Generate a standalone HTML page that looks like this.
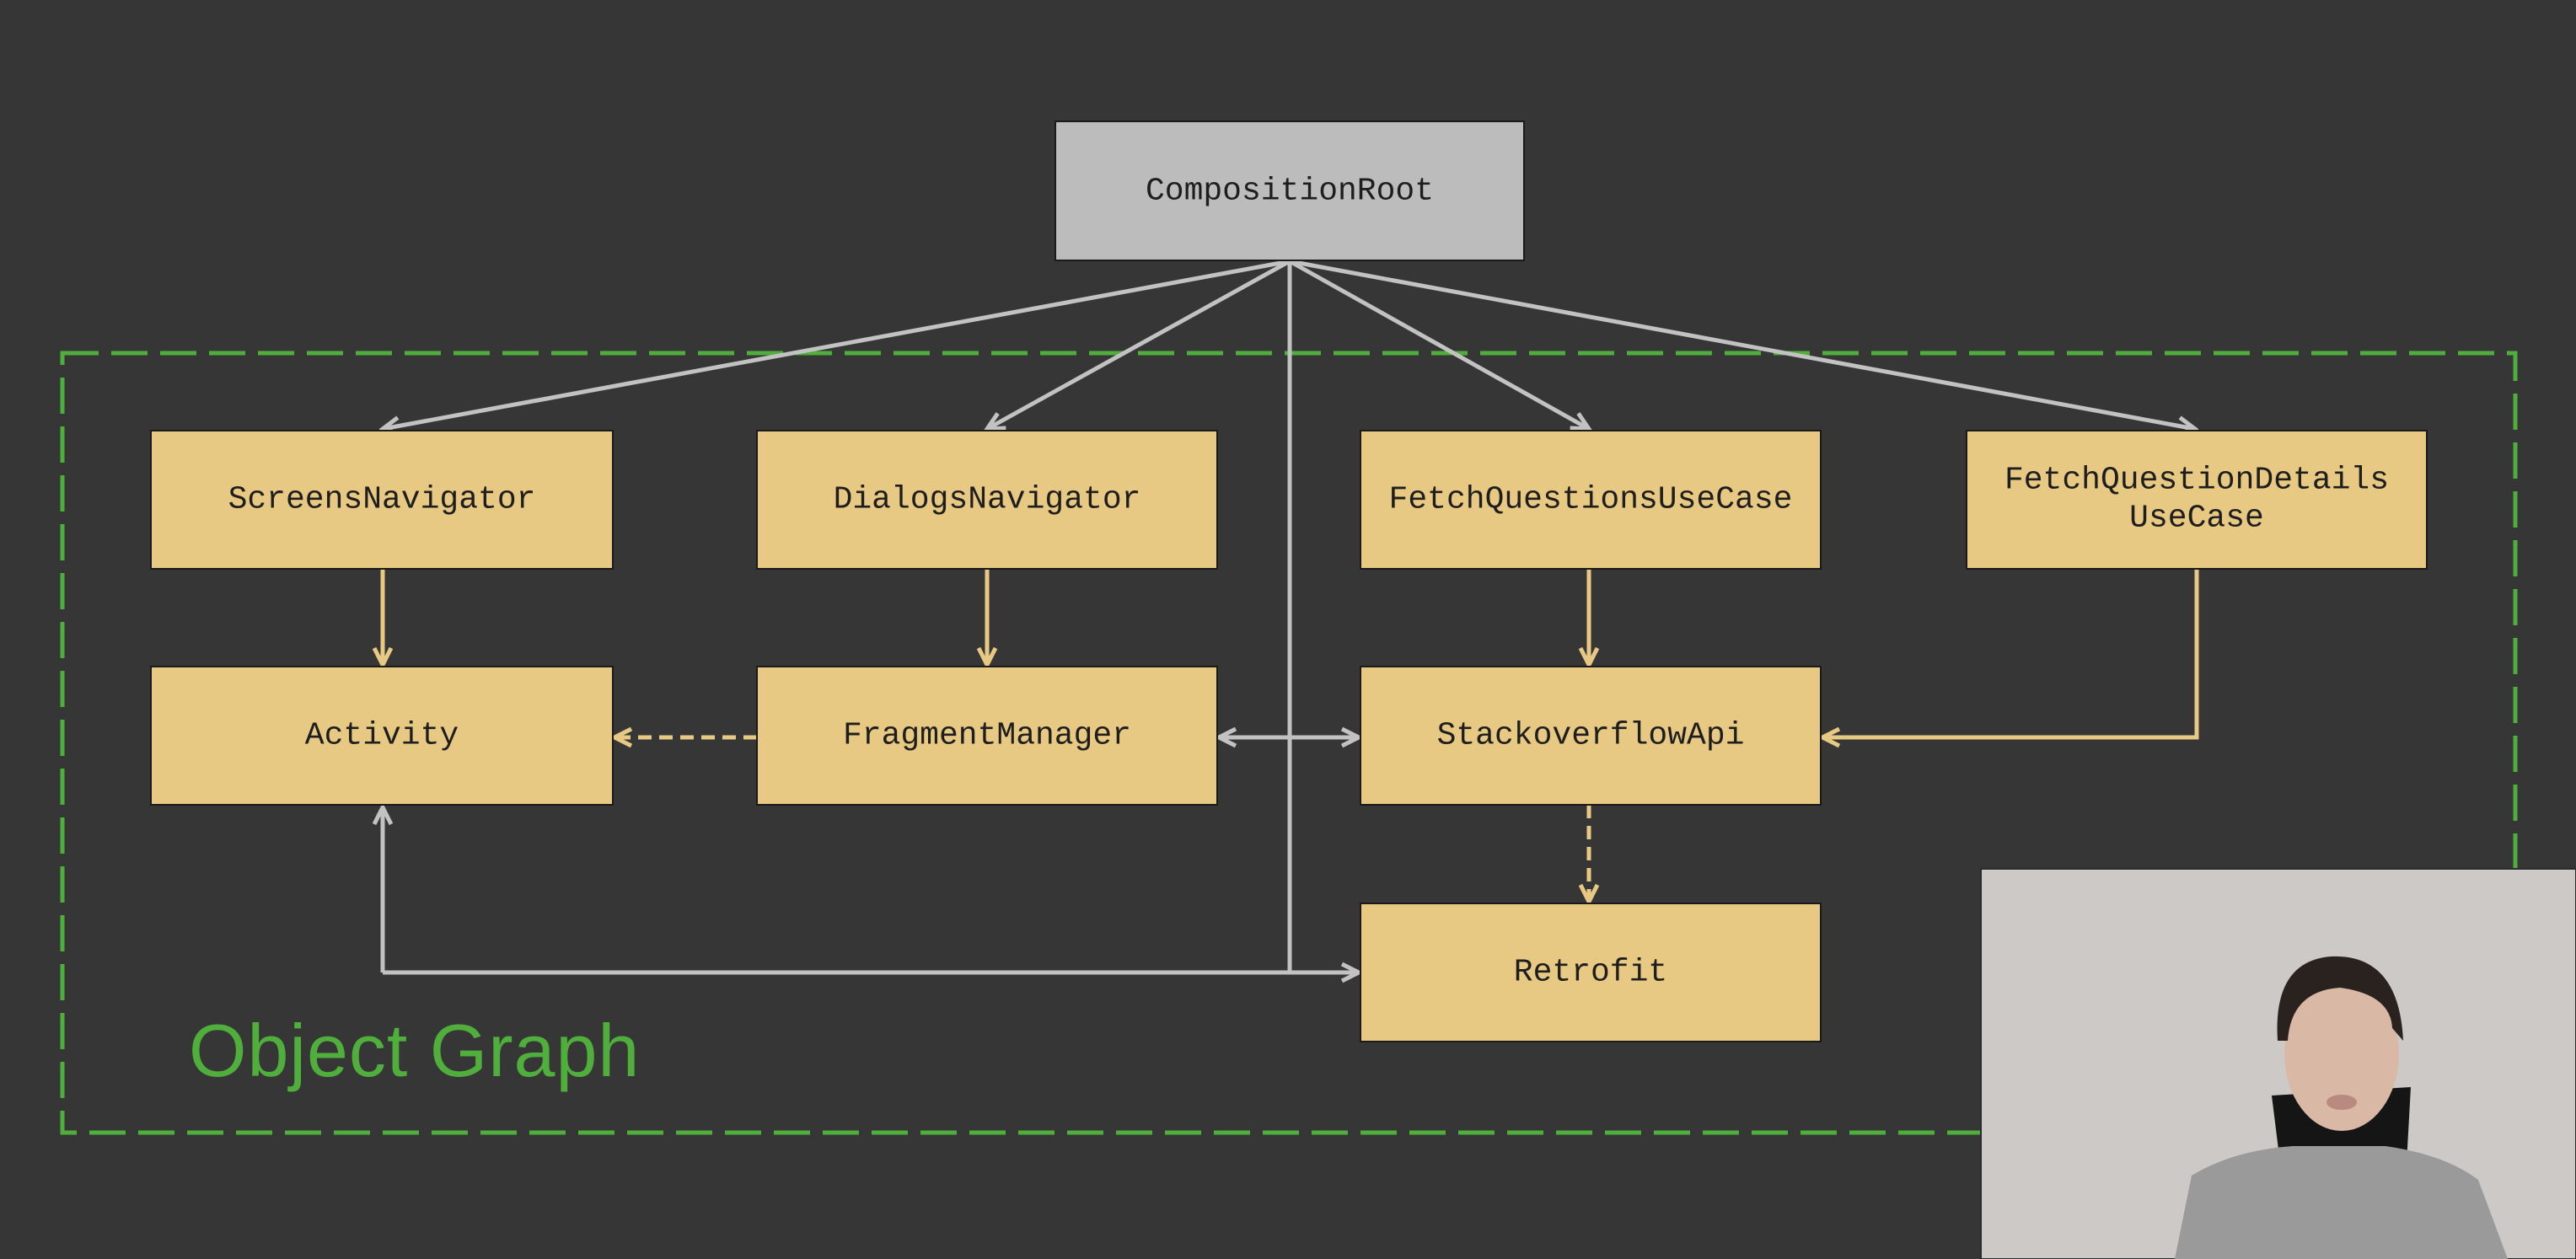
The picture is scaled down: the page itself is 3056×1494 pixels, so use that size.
<!DOCTYPE html>
<html><head><meta charset="utf-8"><style>
html,body{margin:0;padding:0;background:#363636;width:3056px;height:1494px;overflow:hidden}
svg{display:block}
.t{font-family:"Liberation Mono","DejaVu Sans Mono",monospace;font-size:38px;fill:#1e1e1e;text-anchor:middle;dominant-baseline:central}
</style></head><body>
<svg width="3056" height="1494" viewBox="0 0 3056 1494" xmlns="http://www.w3.org/2000/svg">
<defs>
<marker id="AG" markerWidth="28" markerHeight="28" refX="24" refY="14" orient="auto" markerUnits="userSpaceOnUse"><path d="M4,4 L24,14 L4,24" fill="none" stroke="#c2c2c2" stroke-width="5"/></marker>
<marker id="AY" markerWidth="28" markerHeight="28" refX="24" refY="14" orient="auto" markerUnits="userSpaceOnUse"><path d="M4,4 L24,14 L4,24" fill="none" stroke="#e8c984" stroke-width="5"/></marker>
</defs>
<rect width="3056" height="1494" fill="#363636"/>
<rect x="74" y="419" width="2910" height="925" fill="none" stroke="#4fae3c" stroke-width="5" stroke-dasharray="43,15"/>
<text x="224" y="1277" font-family="'Liberation Sans',sans-serif" font-size="88" letter-spacing="1" fill="#4fae3c">Object Graph</text>

<g stroke="#c2c2c2" stroke-width="5" fill="none">
<line x1="1530" y1="310" x2="454" y2="509" marker-end="url(#AG)"/>
<line x1="1530" y1="310" x2="1171" y2="509" marker-end="url(#AG)"/>
<line x1="1530" y1="310" x2="1885" y2="509" marker-end="url(#AG)"/>
<line x1="1530" y1="310" x2="2604" y2="509" marker-end="url(#AG)"/>
<line x1="1530" y1="310" x2="1530" y2="1154"/>
<line x1="454" y1="1154" x2="1612" y2="1154" marker-end="url(#AG)"/>
<line x1="454" y1="1154" x2="454" y2="958" marker-end="url(#AG)"/>
<line x1="1480" y1="875" x2="1612" y2="875" marker-end="url(#AG)"/>
<line x1="1560" y1="875" x2="1446" y2="875" marker-end="url(#AG)"/>
</g>
<g stroke="#e8c984" stroke-width="5" fill="none">
<line x1="454" y1="674" x2="454" y2="789" marker-end="url(#AY)"/>
<line x1="1171" y1="674" x2="1171" y2="789" marker-end="url(#AY)"/>
<line x1="1885" y1="674" x2="1885" y2="789" marker-end="url(#AY)"/>
<polyline points="2606,674 2606,875 2162,875" marker-end="url(#AY)"/>
<line x1="898" y1="875" x2="729" y2="875" stroke-dasharray="16,9" marker-end="url(#AY)"/>
<line x1="1885" y1="955" x2="1885" y2="1070" stroke-dasharray="16,9" marker-end="url(#AY)"/>
</g>

<rect x="1252" y="144" width="556" height="165" fill="#bcbcbc" stroke="#1a1a1a" stroke-width="2"/>
<text class="t" x="1530" y="227">CompositionRoot</text>

<g fill="#e8c984" stroke="#1a1a1a" stroke-width="2">
<rect x="179" y="511" width="548" height="164"/>
<rect x="898" y="511" width="546" height="164"/>
<rect x="1614" y="511" width="546" height="164"/>
<rect x="2333" y="511" width="546" height="164"/>
<rect x="179" y="791" width="548" height="164"/>
<rect x="898" y="791" width="546" height="164"/>
<rect x="1614" y="791" width="546" height="164"/>
<rect x="1614" y="1072" width="546" height="164"/>
</g>
<text class="t" x="453" y="593">ScreensNavigator</text>
<text class="t" x="1171" y="593">DialogsNavigator</text>
<text class="t" x="1887" y="593">FetchQuestionsUseCase</text>
<text class="t" x="2606" y="570">FetchQuestionDetails</text>
<text class="t" x="2606" y="615">UseCase</text>
<text class="t" x="453" y="873">Activity</text>
<text class="t" x="1171" y="873">FragmentManager</text>
<text class="t" x="1887" y="873">StackoverflowApi</text>
<text class="t" x="1887" y="1154">Retrofit</text>

<rect x="2350" y="1031" width="706" height="463" fill="#cdc9c6"/>
<rect x="2350" y="1031" width="706" height="463" fill="none" stroke="#2a2a2a" stroke-width="2"/>
<path d="M2695,1300 L2705,1380 L2855,1380 L2860,1290 Z" fill="#151515"/>
<path d="M2580,1494 L2600,1395 Q2650,1365 2720,1360 L2830,1360 Q2900,1370 2940,1400 L2975,1494 Z" fill="#9a9a9a"/>
<ellipse cx="2778" cy="1250" rx="68" ry="92" fill="#d9b8a6"/>
<path d="M2702,1235 Q2696,1140 2766,1135 Q2846,1132 2851,1235 L2838,1220 Q2836,1180 2776,1172 Q2718,1176 2714,1235 Z" fill="#2a221e"/>
<ellipse cx="2778" cy="1308" rx="18" ry="9" fill="#b88a80"/>
</svg>
</body></html>
